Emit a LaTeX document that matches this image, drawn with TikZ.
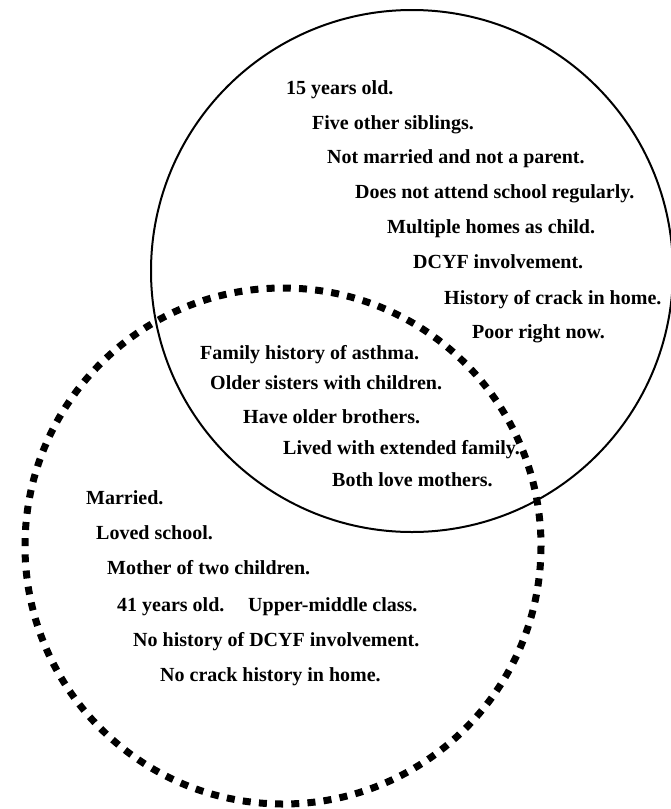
\documentclass[tikz,border=0pt]{standalone}
\usepackage{fontspec}
\setmainfont{Liberation Serif}
\begin{document}
\begin{tikzpicture}[x=1pt,y=-1pt,
  item/.style={anchor=base west, inner sep=0pt,
    font=\fontsize{20}{24}\selectfont\bfseries},
  solidring/.style={line width=2pt},
  dashring/.style={line width=7pt, dash pattern=on 8pt off 8.21pt}]
\useasboundingbox (0,0) rectangle (670,809);

% the two sets
\draw[solidring] (412,271) circle[radius=261];
\draw[dashring] (283,546) circle[radius=258];

% upper set only
\node[item] (a1) at (286,94)  {15 years old.};
\node[item] (a2) at (312,129) {Five other siblings.};
\node[item] (a3) at (327,163) {Not married and not a parent.};
\node[item] (a4) at (355,198) {Does not attend school regularly.};
\node[item] (a5) at (387,233) {Multiple homes as child.};
\node[item] (a6) at (413,268) {DCYF involvement.};
\node[item] (a7) at (444,304) {History of crack in home.};
\node[item] (a8) at (472,338) {Poor right now.};

% shared by both sets
\node[item] (b1) at (200,359) {Family history of asthma.};
\node[item] (b2) at (210,389) {Older sisters with children.};
\node[item] (b3) at (243,423) {Have older brothers.};
\node[item] (b4) at (283,454) {Lived with extended family.};
\node[item] (b5) at (332,486) {Both love mothers.};

% lower set only
\node[item] (c1) at (86,504)  {Married.};
\node[item] (c2) at (96,539)  {Loved school.};
\node[item] (c3) at (107,574) {Mother of two children.};
\node[item] (c4) at (117,611) {41 years old.};
\node[item] (c5) at (248,611) {Upper-middle class.};
\node[item] (c6) at (133,646) {No history of DCYF involvement.};
\node[item] (c7) at (160,681) {No crack history in home.};
\end{tikzpicture}
\end{document}
